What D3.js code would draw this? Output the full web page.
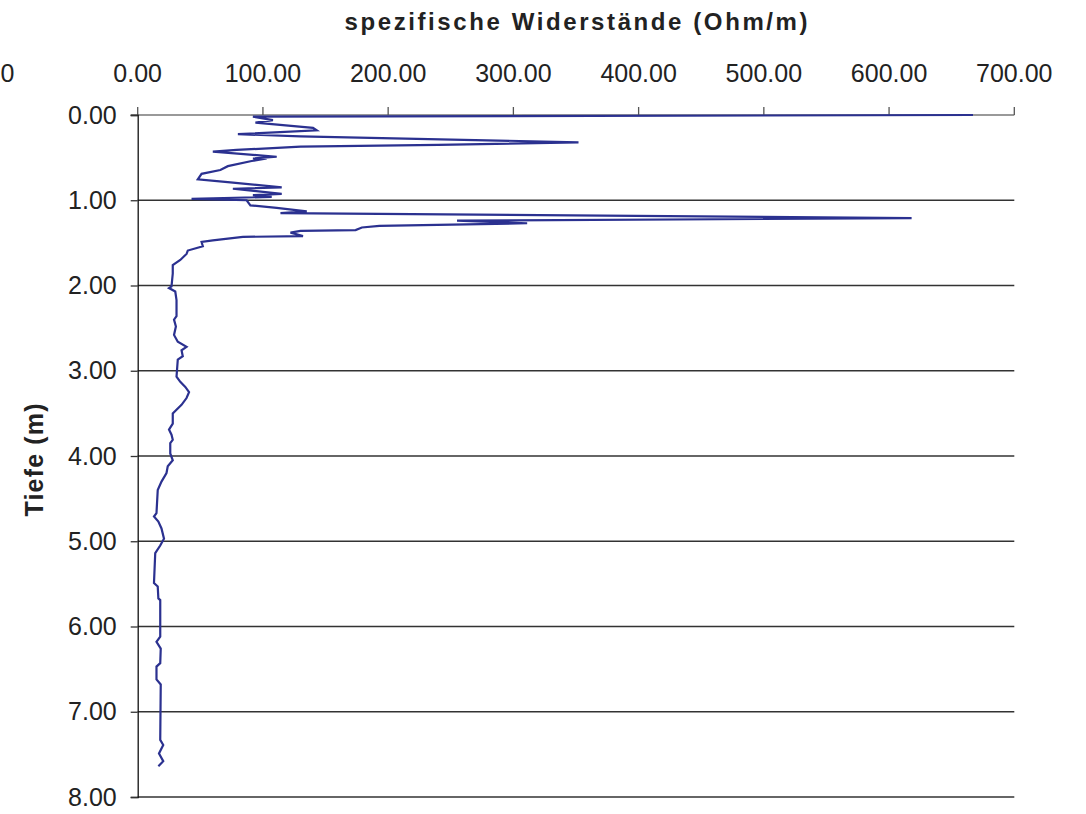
<!DOCTYPE html>
<html>
<head>
<meta charset="utf-8">
<script src="https://cdn.jsdelivr.net/npm/d3@7"></script>
<style>
body { margin: 0; background: #fff; }
text { font-family: "Liberation Sans", Arial, sans-serif; fill: #222; }
</style>
</head>
<body>
<div id="chart"></div>
<script>
// depth (m) and resistivity (Ohm/m)
var depth = [0.00, 0.02, 0.06, 0.09, 0.15, 0.18, 0.225, 0.25, 0.32, 0.35, 0.37, 0.41, 0.43, 0.49, 0.51, 0.51, 0.54, 0.60, 0.645, 0.69, 0.755, 0.79, 0.85, 0.865, 0.925, 0.94, 0.96, 0.985, 1.00, 1.06, 1.09, 1.13, 1.15, 1.21, 1.24, 1.27, 1.30, 1.32, 1.35, 1.36, 1.38, 1.42, 1.43, 1.47, 1.49, 1.54, 1.59, 1.63, 1.70, 1.76, 1.86, 2.01, 2.03, 2.07, 2.17, 2.36, 2.40, 2.48, 2.58, 2.66, 2.72, 2.76, 2.83, 2.87, 3.07, 3.13, 3.19, 3.25, 3.32, 3.40, 3.50, 3.62, 3.69, 3.75, 3.81, 3.85, 3.97, 4.05, 4.12, 4.20, 4.30, 4.40, 4.67, 4.71, 4.77, 4.85, 4.97, 5.05, 5.14, 5.49, 5.53, 5.67, 5.69, 6.12, 6.18, 6.26, 6.43, 6.47, 6.62, 6.68, 7.33, 7.39, 7.49, 7.58, 7.64];
var resist = [667, 92, 108, 94, 140, 143, 80, 130, 352, 240, 130, 79, 60, 111, 92, 103, 91, 72, 66, 51, 48, 74, 115, 76, 115, 92, 107, 43, 87, 90, 111, 135, 114, 618, 255, 311, 193, 179, 174, 130, 122, 132, 84, 60, 51, 52, 40, 39, 34, 28, 28, 27, 25, 30, 31, 31, 29, 30.5, 29, 32, 39, 35, 36, 32, 31, 34, 38, 41, 39, 35, 28, 28, 25, 27, 28, 26, 26, 28, 24, 23, 19, 16, 15, 13, 16.5, 19, 21, 18, 14, 13, 16, 16.5, 18, 18, 15, 18.4, 18, 15, 15, 18.4, 18, 20.4, 17, 20.4, 16.5];

var xTicks = [-100, 0, 100, 200, 300, 400, 500, 600, 700];
var xTickLabels = ["0", "0.00", "100.00", "200.00", "300.00", "400.00", "500.00", "600.00", "700.00"];
var yTicks = [0, 1, 2, 3, 4, 5, 6, 7, 8];

var width = 1086;
var height = 814;
var pLeft = 137.7, pRight = 1014.3, pTop = 115, pBottom = 797;

var svg = d3.select("#chart").append("svg").attr("width", width).attr("height", height);

var x = d3.scaleLinear().domain([0, 700]).range([pLeft, pRight]);
var y = d3.scaleLinear().domain([0, 8]).range([pTop, pBottom]);

// horizontal grid lines
svg.append("g").selectAll("line").data(yTicks.slice(1)).enter().append("line")
	.attr("x1", pLeft).attr("x2", pRight)
	.attr("y1", function(d){ return y(d); })
	.attr("y2", function(d){ return y(d); })
	.attr("stroke", "#333").attr("stroke-width", 1.3);

// top axis
var xAxis = svg.append("g").attr("transform", "translate(0," + pTop + ")");
xAxis.append("line").attr("x1", pLeft - 7).attr("x2", pRight).attr("stroke", "#777").attr("stroke-width", 1.5);
xAxis.selectAll("line.tick").data(xTicks.slice(1)).enter().append("line")
	.attr("class", "tick")
	.attr("x1", function(d){ return x(d); }).attr("x2", function(d){ return x(d); })
	.attr("y1", 0).attr("y2", -8)
	.attr("stroke", "#555").attr("stroke-width", 1.3);
xAxis.selectAll("text").data(xTicks).enter().append("text")
	.attr("x", function(d){ return d < 0 ? x(d) - 5 : x(d); })
	.attr("y", -33)
	.attr("text-anchor", "middle")
	.style("font-size", "25px")
	.text(function(d, i){ return xTickLabels[i]; });

// left axis
var yAxis = d3.axisLeft(y).tickValues(yTicks).tickSize(7).tickPadding(14)
	.tickFormat(d3.format(".2f"));
var gy = svg.append("g").attr("transform", "translate(" + pLeft + ",0)").call(yAxis);
gy.select(".domain").attr("stroke", "#111").attr("stroke-width", 1.3);
gy.selectAll(".tick line").attr("stroke", "#333").attr("stroke-width", 1.3);
gy.selectAll(".tick text").style("font-size", "25px").attr("fill", "#222");

// the curve
var line = d3.line()
	.x(function(d){ return x(d[1]); })
	.y(function(d){ return y(d[0]); });
svg.append("path").datum(d3.zip(depth, resist))
	.attr("d", line)
	.attr("fill", "none")
	.attr("stroke", "#2b3190")
	.attr("stroke-width", 2.2)
	.attr("stroke-linejoin", "miter");

// titles
svg.append("text")
	.attr("x", (pLeft + pRight) / 2).attr("y", 30)
	.attr("text-anchor", "middle")
	.attr("textLength", 463).attr("lengthAdjust", "spacing")
	.style("font-size", "24px").style("font-weight", "bold")
	.text("spezifische Widerstände (Ohm/m)");

svg.append("text")
	.attr("transform", "translate(43," + ((pTop + pBottom) / 2 + 4) + ") rotate(-90)")
	.attr("text-anchor", "middle")
	.attr("textLength", 113).attr("lengthAdjust", "spacing")
	.style("font-size", "25px").style("font-weight", "bold")
	.text("Tiefe (m)");
</script>
</body>
</html>
